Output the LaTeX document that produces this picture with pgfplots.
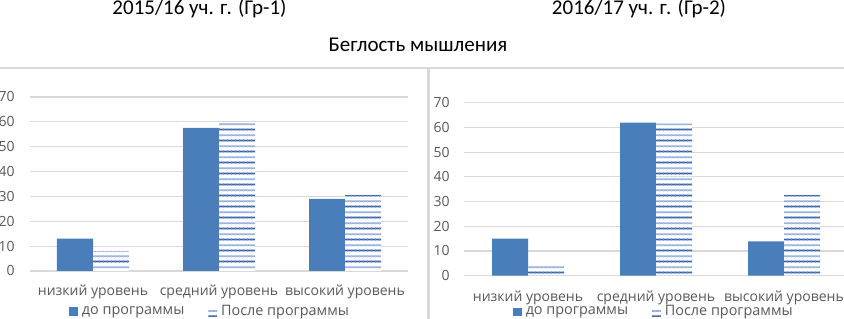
\documentclass[border=0pt]{standalone}
\usepackage{fontspec}
\setmainfont{Open Sans}
\newfontfamily\titlefont{Carlito}
\usepackage{pgfplots}
\pgfplotsset{compat=1.18}
\usetikzlibrary{patterns}
\definecolor{barblue}{HTML}{4A7EBB}
\definecolor{lineblue}{HTML}{3E66AC}
\definecolor{lightblue}{HTML}{97B2DC}
\definecolor{gridgray}{HTML}{D9D9D9}
\definecolor{labelgray}{HTML}{595959}
\pgfdeclarepatterninherentlycolored{hatchblue}{\pgfpointorigin}{\pgfpoint{2pt}{5.5pt}}{\pgfpoint{2pt}{5.5pt}}{%
  \pgfsetfillcolor{white}\pgfpathrectangle{\pgfpointorigin}{\pgfpoint{2pt}{5.5pt}}\pgfusepath{fill}%
  \pgfsetlinewidth{0.95pt}%
  \pgfsetstrokecolor{lineblue}\pgfpathmoveto{\pgfpoint{-0.1pt}{1.4pt}}\pgfpathlineto{\pgfpoint{2.1pt}{1.4pt}}\pgfusepath{stroke}%
  \pgfsetstrokecolor{lightblue}\pgfpathmoveto{\pgfpoint{-0.1pt}{4.15pt}}\pgfpathlineto{\pgfpoint{2.1pt}{4.15pt}}\pgfusepath{stroke}%
}
\pgfplotsset{panel/.style={
  ybar=0pt, bar width=18pt, scale only axis,
  ymin=0, ymax=70, ytick={0,10,...,70},
  xmin=-0.5, xmax=2.5, xtick={0,1,2},
  xticklabels={низкий уровень, средний уровень, высокий уровень},
  ymajorgrids, grid style={gridgray, line width=0.6pt},
  axis line style={draw=none}, major tick length=0pt,
  tick label style={font=\fontsize{7}{8}\selectfont, text=labelgray},
  /pgf/number format/assume math mode=true,
  legend columns=2,
  legend style={draw=none, fill=none, font=\fontsize{7.2}{8}\selectfont, text=labelgray, anchor=center,
    /tikz/every even column/.append style={column sep=10pt}},
  legend image code/.code={\fill[##1] (0pt,-2.2pt) rectangle (4.4pt,2.2pt);},
}}
\begin{document}
\begin{tikzpicture}
\useasboundingbox (0,0) rectangle (422pt,159.5pt);
\clip (0,0) rectangle (422pt,159.5pt);
\fill[white] (0,0) rectangle (422pt,159.5pt);
\draw[gridgray, line width=1.2pt] (0,125.5pt) -- (422pt,125.5pt);
\draw[gridgray, line width=1.5pt] (214pt,125.5pt) -- (214pt,0);
\node[font=\titlefont\fontsize{10.5}{12}\selectfont] at (99.75pt,155pt) {2015/16 уч. г. (Гр-1)};
\node[font=\titlefont\fontsize{10.5}{12}\selectfont] at (319.5pt,155pt) {2016/17 уч. г. (Гр-2)};
\node[font=\titlefont\fontsize{10.5}{12}\selectfont] at (209pt,137pt) {Беглость мышления};
\begin{axis}[panel, at={(15pt,24pt)}, anchor=south west, width=189pt, height=87pt,
  yticklabel style={anchor=east, inner sep=0pt, xshift=-7.5pt},
  xticklabel style={anchor=center, inner sep=0pt, yshift=-10.5pt},
  legend style={at={(0.479,-0.235)}}]
\addplot[fill=barblue, draw=none] coordinates {(0,13) (1,57.6) (2,29)};
\addplot[pattern=hatchblue, draw=none] coordinates {(0,8) (1,59.5) (2,30.6)};
\legend{до программы, После программы}
\end{axis}
\begin{axis}[panel, at={(232pt,21.65pt)}, anchor=south west, width=192pt, height=86.5pt,
  yticklabel style={anchor=east, inner sep=0pt, xshift=-7pt},
  xticklabel style={anchor=center, inner sep=0pt, yshift=-11pt},
  legend style={at={(0.497,-0.21)}}]
\addplot[fill=barblue, draw=none] coordinates {(0,15) (1,61.9) (2,13.9)};
\addplot[pattern=hatchblue, draw=none] coordinates {(0,3.9) (1,61.6) (2,32.7)};
\legend{до программы, После программы}
\end{axis}
\end{tikzpicture}
\end{document}
